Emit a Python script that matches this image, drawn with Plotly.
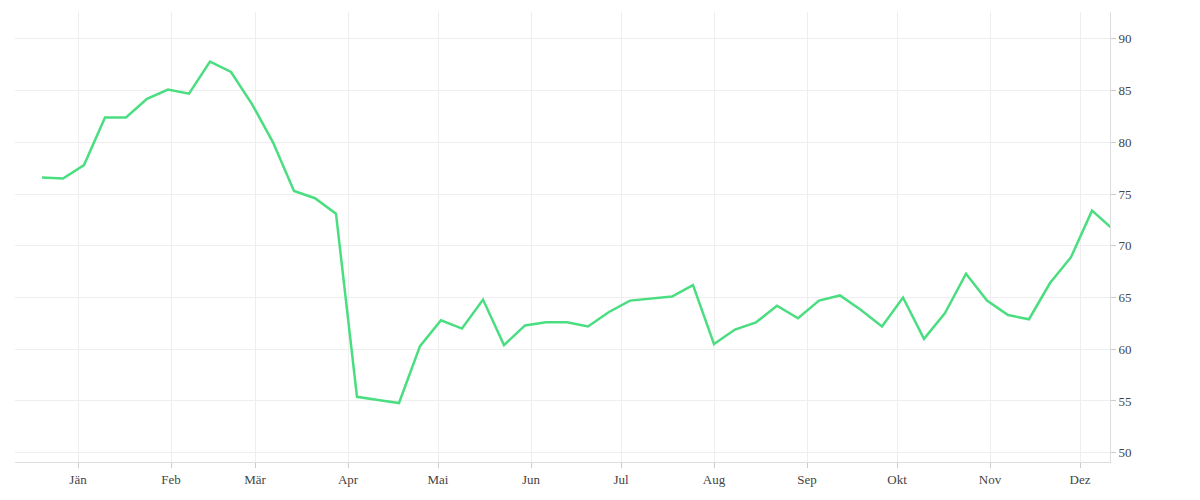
import pandas as pd
import plotly.graph_objects as go

# weekly values
dates = pd.date_range("2020-12-20", periods=52, freq="7D")
values = [76.6, 76.5, 77.8, 82.4, 82.4, 84.2, 85.1, 84.7, 87.8, 86.8,
          83.7, 80.0, 75.3, 74.6, 73.1, 55.4, 55.1, 54.8, 60.3, 62.8,
          62.0, 64.8, 60.4, 62.3, 62.6, 62.6, 62.2, 63.6, 64.7, 64.9,
          65.1, 66.2, 60.5, 61.9, 62.6, 64.2, 63.0, 64.7, 65.2, 63.8,
          62.2, 65.0, 61.0, 63.5, 67.3, 64.7, 63.3, 62.9, 66.4, 68.9,
          73.4, 71.6]
month_ticks = pd.date_range("2021-01-01", periods=12, freq="MS")
month_labels = ["Jän", "Feb", "Mär", "Apr", "Mai", "Jun",
                "Jul", "Aug", "Sep", "Okt", "Nov", "Dez"]

fig = go.Figure(go.Scatter(x=dates, y=values, mode="lines",
                           line=dict(color="#4ade80", width=2.5)))

fig.update_layout(
    width=1200, height=500,
    margin=dict(l=7, r=98, t=4, b=46),
    plot_bgcolor="white", paper_bgcolor="white",
    showlegend=False,
    font=dict(family="Liberation Serif", size=13, color="#444"),
)
fig.update_xaxes(range=["2020-12-11", "2021-12-11"],
                 tickvals=month_ticks, ticktext=month_labels,
                 showgrid=True, gridcolor="#eeeeee",
                 ticks="outside", ticklen=5, tickcolor="#ccc",
                 showline=True, linecolor="#ddd")
fig.update_yaxes(range=[49.1, 92.6], side="right", dtick=5,
                 showgrid=True, gridcolor="#eeeeee", zeroline=False,
                 ticks="outside", ticklen=5, tickcolor="#ccc",
                 showline=True, linecolor="#ddd")

fig.write_html("out.html")
